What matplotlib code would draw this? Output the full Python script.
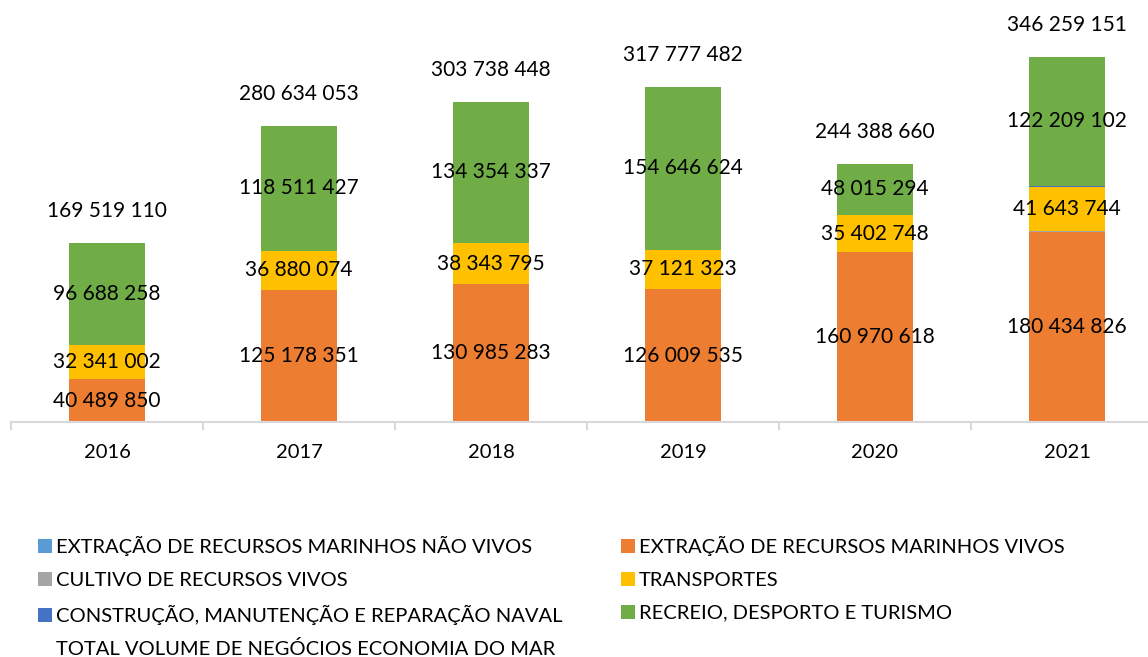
import numpy as np
import matplotlib.pyplot as plt
from matplotlib.lines import Line2D
from matplotlib.patches import Patch

plt.rcParams['font.family'] = ['Lato', 'DejaVu Sans']

years = ['2016', '2017', '2018', '2019', '2020', '2021']
nao_vivos = [0, 0, 0, 0, 0, 0]
vivos = [40489850, 125178351, 130985283, 126009535, 160970618, 180434826]
cultivo = [0, 64201, 55033, 0, 0, 400000]
transportes = [32341002, 36880074, 38343795, 37121323, 35402748, 41643744]
construcao = [0, 0, 0, 0, 0, 1571479]
recreio = [96688258, 118511427, 134354337, 154646624, 48015294, 122209102]
total = [169519110, 280634053, 303738448, 317777482, 244388660, 346259151]

series = [
    ('EXTRAÇÃO DE RECURSOS MARINHOS NÃO VIVOS', nao_vivos, '#5B9BD5', False),
    ('EXTRAÇÃO DE RECURSOS MARINHOS VIVOS', vivos, '#ED7D31', True),
    ('CULTIVO DE RECURSOS VIVOS', cultivo, '#A5A5A5', False),
    ('TRANSPORTES', transportes, '#FFC000', True),
    ('CONSTRUÇÃO, MANUTENÇÃO E REPARAÇÃO NAVAL', construcao, '#4472C4', False),
    ('RECREIO, DESPORTO E TURISMO', recreio, '#70AD47', True),
]

def fmt(v):
    return f'{v:,}'.replace(',', ' ')

fig = plt.figure(figsize=(11.48, 6.57), dpi=100)
# plot area runs past the right edge, as in the original
ax = fig.add_axes([11 / 1148, 235 / 657, 1152 / 1148, 422 / 657])

x = np.arange(len(years))
bottom = np.zeros(len(years))
handles = {}
for name, vals, color, labelled in series:
    vals = np.array(vals, dtype=float)
    ax.bar(x, vals, 0.4, bottom=bottom, color=color, linewidth=0)
    if labelled:
        for xi, b, v in zip(x, bottom, vals):
            ax.text(xi, b + v / 2, fmt(int(v)), ha='center', va='center', fontsize=15)
    bottom += vals
    handles[name] = Patch(facecolor=color)

for xi, t in zip(x, total):
    ax.annotate(fmt(t), (xi, t), xytext=(0, 23), textcoords='offset points',
                ha='center', va='center', fontsize=15)

ax.set_xlim(-0.5, len(years) - 0.5)
ax.set_ylim(0, 400e6)
for s in ['top', 'right', 'left']:
    ax.spines[s].set_visible(False)
ax.spines['bottom'].set_color('#D9D9D9')
ax.spines['bottom'].set_linewidth(1.5)
ax.set_yticks([])
ax.set_xticks(x)
ax.set_xticklabels(years, fontsize=14.5)
ax.tick_params(axis='x', which='major', length=0, pad=16)
ax.set_xticks(np.arange(-0.5, len(years)), minor=True)
ax.tick_params(axis='x', which='minor', length=6, width=1.5, color='#D9D9D9')

order = [series[0][0], series[2][0], series[4][0], None,
         series[1][0], series[3][0], series[5][0]]
h = [handles[n] if n else Line2D([], [], linestyle='none') for n in order]
lab = [n if n else 'TOTAL VOLUME DE NEGÓCIOS ECONOMIA DO MAR' for n in order]
fig.legend(h, lab, ncol=2, loc='upper left', bbox_to_anchor=(38 / 1148, 1 - 536 / 657),
           frameon=False, fontsize=14.5, handlelength=0.7, handleheight=0.7,
           handletextpad=0.2, labelspacing=0.78, columnspacing=2.9, borderpad=0,
           borderaxespad=0)

fig.savefig('out.png', dpi=100)
